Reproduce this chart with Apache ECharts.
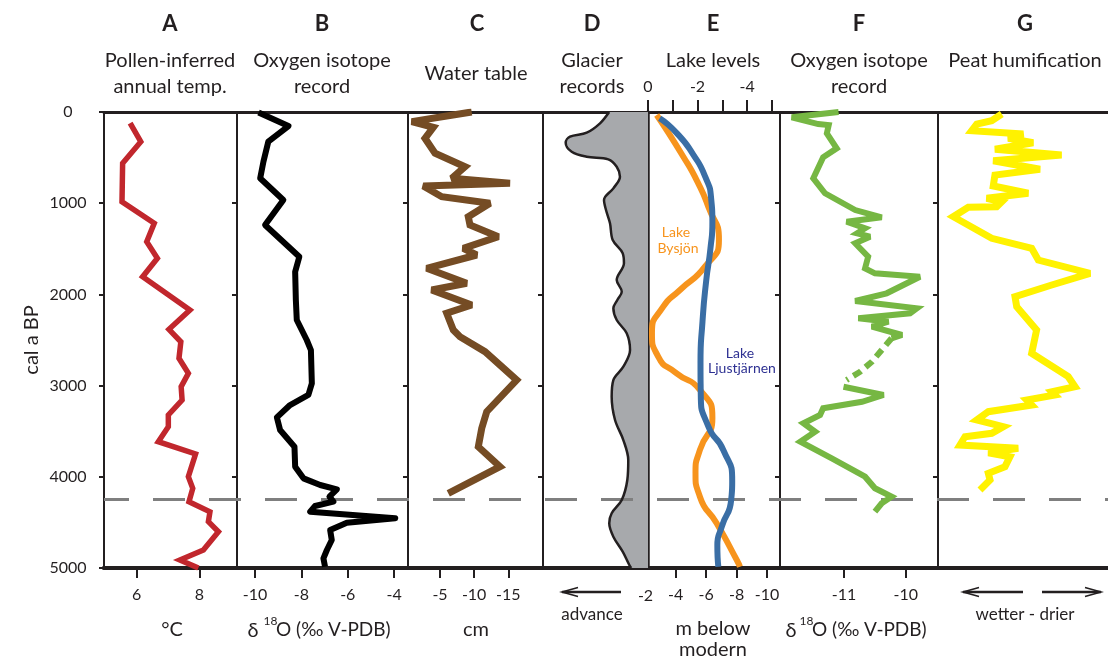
<!DOCTYPE html>
<html><head><meta charset="utf-8">
<script src="https://cdn.jsdelivr.net/npm/echarts@6/dist/echarts.min.js"></script>
<style>html,body{margin:0;padding:0;background:#fff}#c{width:1108px;height:660px}</style>
</head><body><div id="c"></div>
<script>
// ---------- data: [value, cal a BP] ----------
const yearTicks = [0, 1000, 2000, 3000, 4000, 5000];
const boundaryYear = 4250;
const pollenTemp = [[5.79,121],[6.13,326],[5.55,563],[5.53,984],[6.56,1220],[6.32,1422],[6.66,1604],[6.19,1806],[7.70,2171],[7.03,2383],[7.41,2519],[7.35,2701],[7.65,2865],[7.42,3012],[7.45,3158],[7.01,3322],[7.01,3451],[6.69,3615],[7.88,3750],[7.65,3999],[7.79,4127],[7.67,4274],[8.34,4384],[8.29,4492],[8.61,4602],[8.13,4803],[7.38,4912],[7.97,5000]];
const isotopeB = [[-9.85,5],[-8.56,154],[-9.43,326],[-9.64,545],[-9.78,727],[-8.78,965],[-9.57,1239],[-8.09,1587],[-8.27,1751],[-8.24,2061],[-8.20,2281],[-7.77,2500],[-7.59,2610],[-7.55,2975],[-7.70,3103],[-8.49,3213],[-9.06,3348],[-8.92,3487],[-8.30,3670],[-8.27,3889],[-7.91,4017],[-7.19,4090],[-6.47,4137],[-6.79,4218],[-6.62,4273],[-7.41,4320],[-7.62,4383],[-3.95,4455],[-6.04,4503],[-6.76,4583],[-6.69,4693],[-6.90,4803],[-7.05,4894],[-6.98,4986]];
const waterTable = [[-9.64,0],[-5.98,44],[-0.86,106],[-4.02,168],[-2.80,288],[-4.27,453],[-8.66,600],[-6.71,727],[-15.25,782],[-2.55,811],[-5.25,929],[-12.32,1001],[-9.14,1148],[-9.39,1239],[-13.54,1367],[-8.41,1495],[-10.37,1568],[-3.05,1714],[-8.91,1878],[-3.78,1952],[-9.64,2116],[-5.98,2207],[-6.95,2390],[-7.93,2464],[-11.59,2628],[-16.23,2939],[-11.84,3286],[-11.11,3468],[-10.61,3670],[-13.78,3889],[-6.21,4181]];
const glacierExtent = [[6.3,0],[5.43,124],[4.16,227],[2.57,271],[2.16,337],[2.73,435],[4.16,490],[6.22,519],[7.02,600],[7.33,709],[6.70,837],[5.81,965],[6.00,1075],[6.38,1220],[6.64,1404],[7.59,1549],[7.71,1659],[7.02,1842],[7.50,1970],[7.08,2061],[6.70,2152],[7.02,2281],[7.97,2427],[8.29,2610],[7.65,2793],[6.70,2939],[6.54,3122],[6.86,3377],[7.65,3597],[8.12,3816],[8.03,4035],[7.50,4254],[6.54,4400],[6.31,4510],[6.70,4657],[7.59,4821],[8.22,4967],[8.4,5000]];
const lakeBysjon = [[-2.75,33],[-4.50,490],[-5.48,782],[-6.14,1038],[-6.84,1400],[-5.92,1696],[-4.28,1952],[-3.18,2135],[-2.44,2420],[-2.85,2683],[-4.06,2865],[-5.59,3048],[-6.41,3355],[-5.59,3706],[-5.30,3958],[-5.59,4218],[-6.69,4510],[-8.01,4912],[-8.22,4986]];
const lakeLjustjarnen = [[-0.47,69],[-1.17,234],[-1.84,472],[-2.31,709],[-2.55,950],[-2.60,1200],[-2.52,1500],[-2.35,1850],[-2.20,2300],[-2.12,2750],[-2.13,3085],[-2.44,3451],[-3.04,3706],[-3.40,4050],[-3.36,4250],[-2.98,4547],[-2.80,4750],[-2.84,4986]];
const isotopeF1 = [[-11.09,0],[-11.85,58],[-11.42,132],[-11.25,143],[-11.28,234],[-11.12,398],[-11.34,497],[-11.50,727],[-11.31,891],[-10.82,1075],[-10.39,1155],[-10.96,1203],[-10.66,1275],[-10.79,1330],[-10.58,1367],[-10.82,1440],[-10.61,1587],[-10.66,1714],[-10.50,1769],[-9.77,1806],[-10.31,1988],[-10.82,2072],[-9.82,2152],[-9.93,2207],[-10.77,2262],[-10.28,2299],[-10.55,2354],[-10.06,2445],[-10.23,2481]];
const isotopeFGap = [[-10.23,2481],[-10.39,2610],[-10.55,2738],[-10.74,2848],[-10.96,2939]];
const isotopeF2 = [[-11.01,3012],[-10.36,3103],[-10.71,3177],[-11.34,3249],[-11.39,3322],[-11.66,3413],[-11.47,3506],[-11.71,3615],[-11.20,3797],[-10.66,3999],[-10.50,4126],[-10.23,4218],[-10.39,4291],[-10.50,4383]];
const peatHumification = [[37.5,22],[31.6,95],[22.8,132],[19.8,205],[50.2,241],[41.3,288],[56.0,337],[33.5,409],[72.7,471],[32.5,534],[60.0,628],[33.5,691],[32.5,811],[53.1,891],[28.6,946],[37.5,984],[34.5,1038],[17.8,1045],[9.0,1148],[31.6,1385],[55.1,1495],[59.0,1623],[89.4,1769],[66.9,1897],[45.3,2025],[46.3,2135],[58.0,2390],[55.1,2646],[76.6,2902],[80.6,3012],[66.9,3067],[68.8,3103],[52.2,3158],[55.1,3213],[29.6,3286],[22.8,3377],[38.4,3451],[31.6,3523],[15.9,3560],[12.9,3651],[47.2,3688],[29.6,3736],[42.3,3780],[39.4,3889],[29.6,3962],[30.6,4035],[24.7,4145]];
const ticksA = [6, 8];
const ticksB = [-10, -8, -6, -4];
const ticksC = [-5, -10, -15];
const ticksEBottom = [-4, -6, -8, -10];
const ticksETopMinor = [0, -1, -2, -3, -4, -5];
const ticksETopLabels = [0, -2, -4];
const ticksF = [-11, -10];

// ---------- layout / style ----------
const INK = '#231f20';
const FONT = 'Lato, "Open Sans", sans-serif';
const TOP = 112, BOTTOM = 92;
const grids = [
  {left:104, right:0, top:TOP, bottom:BOTTOM},
  {left:104, width:133, top:TOP, bottom:BOTTOM},
  {left:237, width:171, top:TOP, bottom:BOTTOM},
  {left:408, width:135, top:TOP, bottom:BOTTOM},
  {left:543, width:105, top:TOP, bottom:BOTTOM},
  {left:648, width:132, top:TOP, bottom:BOTTOM},
  {left:780, width:158, top:TOP, bottom:BOTTOM},
  {left:938, right:0, top:TOP, bottom:BOTTOM}
];
const lbl = {color:INK, fontSize:16, fontFamily:FONT, margin:19};
const plain = v => String(v);
function bottomAxis(g, min, max, inverse, ticks, labels){
  return {type:'value', gridIndex:g, position:'bottom', min, max, inverse:!!inverse,
    axisLine:{show:true, onZero:false, lineStyle:{color:INK, width:4}},
    axisTick:{show:!!ticks, length:10, lineStyle:{color:INK, width:2}, customValues:ticks||[]},
    axisLabel:Object.assign({show:!!labels, customValues:labels||[], formatter:plain}, lbl),
    splitLine:{show:false}};
}
function leftAxis(g, showLabels, w){
  return {type:'value', gridIndex:g, position:'left', min:0, max:5000, interval:1000, inverse:true,
    axisLine:{show:true, onZero:false, lineStyle:{color:INK, width:w||2}},
    axisTick:{show:true, length:5, lineStyle:{color:INK, width:2}},
    axisLabel:{show:!!showLabels, color:INK, fontSize:16, fontFamily:FONT, align:'center', margin:36, customValues:yearTicks, formatter:plain},
    splitLine:{show:false}};
}
const xAxes = [
  {type:'value', gridIndex:0, position:'bottom', min:0, max:1, axisLine:{show:true,onZero:false,lineStyle:{color:INK,width:4}}, axisTick:{show:false}, axisLabel:{show:false}, splitLine:{show:false}},
  {type:'value', gridIndex:0, position:'top', min:0, max:1, axisLine:{show:true,onZero:false,lineStyle:{color:INK,width:3}}, axisTick:{show:false}, axisLabel:{show:false}, splitLine:{show:false}},
  bottomAxis(1, 4.955, 9.204, false, ticksA, ticksA),
  bottomAxis(2, -10.78, -3.40, false, ticksB, ticksB),
  bottomAxis(3, -20.08, -0.315, true, ticksC, ticksC),
  bottomAxis(4, 0, 10, false, null, null),
  bottomAxis(5, -10.85, -2.18, true, ticksEBottom, ticksEBottom),
  {type:'value', gridIndex:5, position:'top', min:-5.33, max:0, inverse:true,
    axisLine:{show:true,onZero:false,lineStyle:{color:INK,width:3}},
    axisTick:{show:true, length:12, lineStyle:{color:INK,width:2}, customValues:ticksETopMinor},
    axisLabel:Object.assign({show:true, customValues:ticksETopLabels, formatter:plain}, lbl, {margin:17}),
    splitLine:{show:false}},
  bottomAxis(6, -12.04, -9.477, false, ticksF, ticksF),
  bottomAxis(7, 0, 100, false, null, null)
];
const yAxes = [
  {type:'value', gridIndex:0, min:0, max:5000, inverse:true, show:false},
  leftAxis(1, true), leftAxis(2), leftAxis(3), leftAxis(4), leftAxis(5, false, 3.5), leftAxis(6), leftAxis(7)
];
function curve(data, xi, yi, color, width, extra){
  return Object.assign({type:'line', data, xAxisIndex:xi, yAxisIndex:yi, symbol:'none', z:4,
    lineStyle:{color, width, join:'miter', miterLimit:3, cap:'butt'}, silent:true}, extra||{});
}
const series = [
  {type:'custom', xAxisIndex:5, yAxisIndex:4, data:[[0,0]], z:1, silent:true,
    renderItem:function(params, api){
      const pts = glacierExtent.map(d => api.coord(d));
      pts.push(api.coord([10, glacierExtent[glacierExtent.length-1][1]]));
      pts.push(api.coord([10, glacierExtent[0][1]]));
      return {type:'polygon', shape:{points:pts}, style:{fill:'#a7a9ac'}};
    }},
  {type:'line', data:[[0,boundaryYear],[1,boundaryYear]], xAxisIndex:0, yAxisIndex:0, symbol:'none', z:2, silent:true,
    lineStyle:{color:'#7f7f7f', width:3, type:[32,24], dashOffset:7}},
  curve(glacierExtent, 5, 4, INK, 2.5, {smooth:0.35, z:3}),
  curve(pollenTemp, 2, 1, '#c1272d', 5.5),
  curve(isotopeB, 3, 2, '#000000', 6, {lineStyle:{color:'#000', width:6, join:'round'}}),
  curve(waterTable, 4, 3, '#754c24', 7, {lineStyle:{color:'#754c24', width:7, join:'miter', miterLimit:2}}),
  curve(lakeBysjon, 6, 5, '#f7941d', 6, {smooth:0.6}),
  curve(lakeLjustjarnen, 7, 5, '#3a6ea5', 6, {smooth:0.6}),
  curve(isotopeF1, 8, 6, '#76b743', 6),
  curve(isotopeFGap, 8, 6, '#76b743', 6, {lineStyle:{color:'#76b743', width:6, type:[9,6]}}),
  curve(isotopeF2, 8, 6, '#76b743', 6),
  curve(peatHumification, 9, 7, '#fff200', 7)
];
function txt(x, y, text, size, opts){
  opts = opts || {};
  return Object.assign({type:'text', x, y, silent:true, z:10,
    style:Object.assign({text, fill:INK, font: (opts.bold ? 'bold ' : '') + size + 'px ' + FONT, textAlign:opts.align||'center', textVerticalAlign:'middle'}, opts.style||{})},
    opts.el||{});
}
function arrowLine(x1, x2, y, headAt){
  const dir = headAt === x1 ? 1 : -1;
  return [
    {type:'line', shape:{x1, y1:y, x2, y2:y}, style:{stroke:INK, lineWidth:2.5}, silent:true},
    {type:'polyline', shape:{points:[[headAt + dir*16, y-4.5],[headAt, y],[headAt + dir*16, y+4.5]]}, style:{stroke:INK, lineWidth:1.6, fill:null}, silent:true}
  ];
}
function isoLabel(xDelta, xSup, xRest){
  return [
    txt(xDelta, 631, 'δ', 20),
    txt(xSup, 621, '18', 12, {align:'left'}),
    txt(xRest, 630, 'O (‰ V-PDB)', 19, {align:'left'})
  ];
}
const graphics = [
  txt(170,24,'A',22,{bold:true}), txt(322,24,'B',22,{bold:true}), txt(477,24,'C',22,{bold:true}),
  txt(592,24,'D',22,{bold:true}), txt(713,24,'E',22,{bold:true}), txt(859,24,'F',22,{bold:true}), txt(1025,24,'G',22,{bold:true}),
  txt(170,61,'Pollen-inferred',20), txt(170,87,'annual temp.',20),
  txt(322,61,'Oxygen isotope',20), txt(322,87,'record',20),
  txt(476,74,'Water table',20),
  txt(592,61,'Glacier',20), txt(592,87,'records',20),
  txt(713,61,'Lake levels',20),
  txt(859,61,'Oxygen isotope',20), txt(859,87,'record',20),
  txt(1025,61,'Peat humification',20),
  txt(32,340,'cal a BP',20,{el:{rotation:Math.PI/2}}),
  txt(172,630,'°C',20),
  ...isoLabel(253, 263.5, 276),
  txt(476,630,'cm',20),
  txt(645.5,596,'-2',16),
  txt(592,615,'advance',17),
  txt(713,629,'m below',20), txt(713,650,'modern',20),
  ...isoLabel(791, 799.5, 812),
  txt(1025,615,'wetter - drier',17),
  txt(676,232,'Lake',14,{style:{fill:'#f7941d'}}), txt(678,248,'Bysjön',14,{style:{fill:'#f7941d'}}),
  txt(740,353,'Lake',14,{style:{fill:'#2e3192'}}), txt(742,368,'Ljustjärnen',14,{style:{fill:'#2e3192'}}),
  ...arrowLine(562, 621, 592, 562),
  ...arrowLine(963, 1023, 592, 963),
  ...arrowLine(1042, 1101, 592, 1101)
];
const chart = echarts.init(document.getElementById('c'), null, {renderer:'canvas'});
chart.setOption({
  animation:false, backgroundColor:'#fff',
  grid:grids, xAxis:xAxes, yAxis:yAxes, series, graphic:graphics
});
</script></body></html>
